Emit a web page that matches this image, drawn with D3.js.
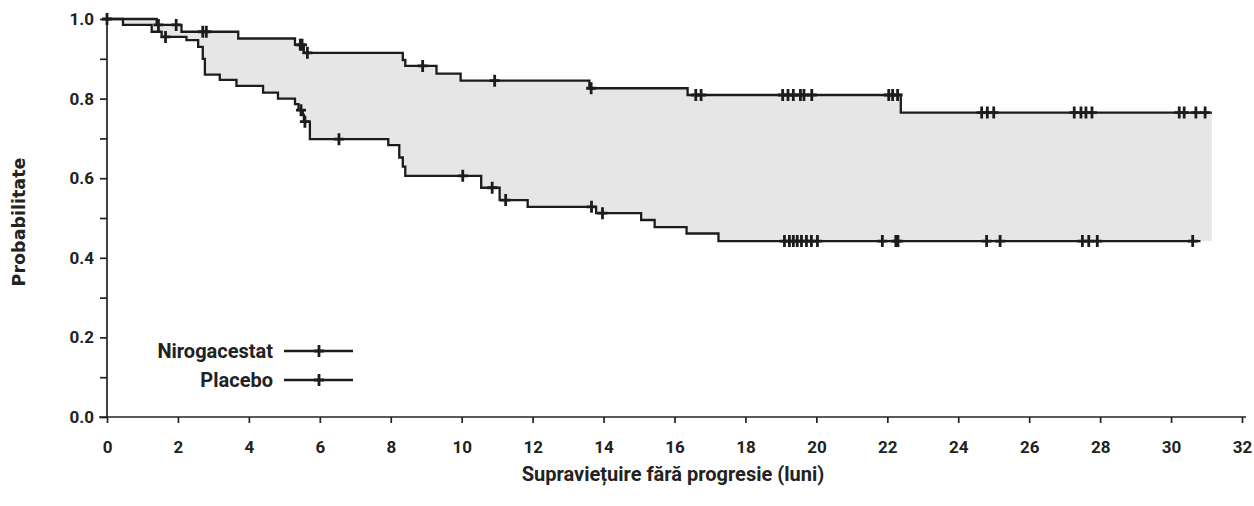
<!DOCTYPE html>
<html>
<head>
<meta charset="utf-8">
<script src="https://cdn.jsdelivr.net/npm/d3@7"></script>
<style>
  body { margin: 0; background: #fff; }
  .axis path, .axis line { stroke: #222; stroke-width: 1.7; }
  .axis text { font-family: Roboto, sans-serif; font-weight: 700; font-size: 17px; fill: #222; }
</style>
</head>
<body>
<div id="chart"></div>
<script>
// Nirogacestat - step times and survival
var niroTimes = [0, 1.4, 2.1, 3.7, 5.3, 5.55, 8.34, 8.41, 9.29, 9.97, 13.6, 16.37, 22.38];
var niroSurv  = [1.0, 0.985, 0.968, 0.951, 0.935, 0.915, 0.897, 0.882, 0.863, 0.845, 0.826, 0.809, 0.765];
var niroEnd = 31.15;
var niroCensor = [1.45, 1.95, 2.7, 2.8, 5.45, 5.5, 5.65, 8.9, 10.93, 13.65, 16.6, 16.75,
  19.05, 19.2, 19.35, 19.55, 19.65, 19.87, 22.04, 22.15, 22.29, 24.66, 24.82, 25.0,
  27.27, 27.46, 27.6, 27.77, 30.23, 30.37, 30.7, 30.96];

// Placebo
var placeboTimes = [0, 0.45, 1.26, 1.54, 2.24, 2.57, 2.7, 2.76, 3.18, 3.65, 4.4, 4.82, 5.3, 5.4, 5.52, 5.55,
  5.72, 7.93, 8.24, 8.34, 8.41, 10.55, 11.07, 11.86, 13.79, 15.06, 15.44, 16.34, 17.24];
var placeboSurv  = [1.0, 0.985, 0.968, 0.955, 0.947, 0.93, 0.9, 0.86, 0.847, 0.832, 0.815, 0.80, 0.786, 0.771, 0.759, 0.742,
  0.698, 0.683, 0.652, 0.629, 0.606, 0.576, 0.545, 0.528, 0.512, 0.495, 0.477, 0.461, 0.442];
var placeboEnd = 30.83;
var placeboCensor = [0, 1.65, 5.47, 5.58, 6.54, 10.03, 10.86, 11.24, 13.66, 13.97,
  19.1, 19.24, 19.35, 19.46, 19.58, 19.72, 19.86, 20.03, 21.86, 22.24, 22.3,
  24.8, 25.18, 27.5, 27.68, 27.92, 30.61];

var xTicks = d3.range(0, 33, 2);
var yTicks = [0, 0.1, 0.2, 0.3, 0.4, 0.5, 0.6, 0.7, 0.8, 0.9, 1.0];
var yLabels = [0, 0.2, 0.4, 0.6, 0.8, 1.0];

var W = 1254, H = 506;
var svg = d3.select('#chart').append('svg').attr('width', W).attr('height', H);

var x = d3.scaleLinear().domain([0, 32]).range([107, 1242]);
var y = d3.scaleLinear().domain([0, 1]).range([417, 19]);

// survival at time t from step arrays
function survAt(times, surv, t) {
  var s = surv[0];
  for (var i = 0; i < times.length; i++) { if (times[i] <= t) s = surv[i]; }
  return s;
}
function stepPoints(times, surv, end) {
  var pts = times.map(function(t, i) { return [t, surv[i]]; });
  pts.push([end, surv[surv.length - 1]]);
  return pts;
}

// shaded band between the curves
var allT = d3.sort(Array.from(new Set(niroTimes.concat(placeboTimes))), function(a, b) { return a - b; });
allT.push(niroEnd);
var band = allT.map(function(t) {
  return {t: t, lo: survAt(placeboTimes, placeboSurv, t), hi: survAt(niroTimes, niroSurv, t)};
});
var area = d3.area().curve(d3.curveStepAfter)
  .x(function(d) { return x(d.t); })
  .y0(function(d) { return y(d.lo); })
  .y1(function(d) { return y(d.hi); });
svg.append('path').datum(band).attr('d', area).attr('fill', '#e6e6e6');

// axes
var yAxis = d3.axisLeft(y).tickValues(yTicks).tickSize(7).tickPadding(6)
  .tickFormat(function(d) { return yLabels.some(function(v) { return Math.abs(v - d) < 1e-9; }) ? d3.format('.1f')(d) : ''; });
var gy = svg.append('g').attr('class', 'axis').attr('transform', 'translate(' + x(0) + ',0)').call(yAxis);
gy.select('.domain').attr('d', 'M0,' + (y(1) - 4) + 'V' + y(0));

var xAxis = d3.axisBottom(x).tickValues(xTicks).tickSize(6).tickPadding(18);
var gx = svg.append('g').attr('class', 'axis').attr('transform', 'translate(0,' + y(0) + ')').call(xAxis);
gx.select('.domain').attr('d', 'M' + (x(0) - 8) + ',0H' + (x(32) + 4));

// curves
var line = d3.line().curve(d3.curveStepAfter)
  .x(function(d) { return x(d[0]); })
  .y(function(d) { return y(d[1]); });

function drawCurve(times, surv, end, censor) {
  var g = svg.append('g');
  g.append('path').datum(stepPoints(times, surv, end)).attr('d', line)
    .attr('fill', 'none').attr('stroke', '#1c1c1c').attr('stroke-width', 2.3);
  g.selectAll('.cen').data(censor).enter().append('path')
    .attr('class', 'cen')
    .attr('d', function(t) {
      var cx = x(t), cy = y(survAt(times, surv, t));
      return 'M' + cx + ',' + (cy - 6) + 'V' + (cy + 6) + 'M' + (cx - 5) + ',' + cy + 'H' + (cx + 5);
    })
    .attr('stroke', '#1c1c1c').attr('stroke-width', 2.8).attr('fill', 'none');
}
drawCurve(placeboTimes, placeboSurv, placeboEnd, placeboCensor);
drawCurve(niroTimes, niroSurv, niroEnd, niroCensor);

// legend
var legend = [{name: 'Nirogacestat', y: 351}, {name: 'Placebo', y: 380}];
var lg = svg.append('g');
legend.forEach(function(d) {
  lg.append('text').attr('x', 273).attr('y', d.y).attr('dy', '0.33em').attr('text-anchor', 'end')
    .style('font-family', 'Roboto, sans-serif').style('font-weight', 700).style('font-size', '20px')
    .attr('fill', '#222').text(d.name);
  lg.append('line').attr('x1', 284).attr('x2', 353).attr('y1', d.y).attr('y2', d.y)
    .attr('stroke', '#1c1c1c').attr('stroke-width', 2.3);
  lg.append('path').attr('d', 'M319,' + (d.y - 6) + 'V' + (d.y + 6) + 'M314,' + d.y + 'H324')
    .attr('stroke', '#1c1c1c').attr('stroke-width', 2.8);
});

// axis titles
svg.append('text').attr('transform', 'translate(25,222) rotate(-90)').attr('text-anchor', 'middle')
  .style('font-family', '"DejaVu Sans", sans-serif').style('font-weight', 700).style('font-size', '17.5px')
  .attr('fill', '#222').text('Probabilitate');
svg.append('text').attr('x', 673).attr('y', 481).attr('text-anchor', 'middle')
  .style('font-family', 'Roboto, sans-serif').style('font-weight', 700).style('font-size', '20px')
  .attr('fill', '#222').text('Supraviețuire fără progresie (luni)');
</script>
</body>
</html>
